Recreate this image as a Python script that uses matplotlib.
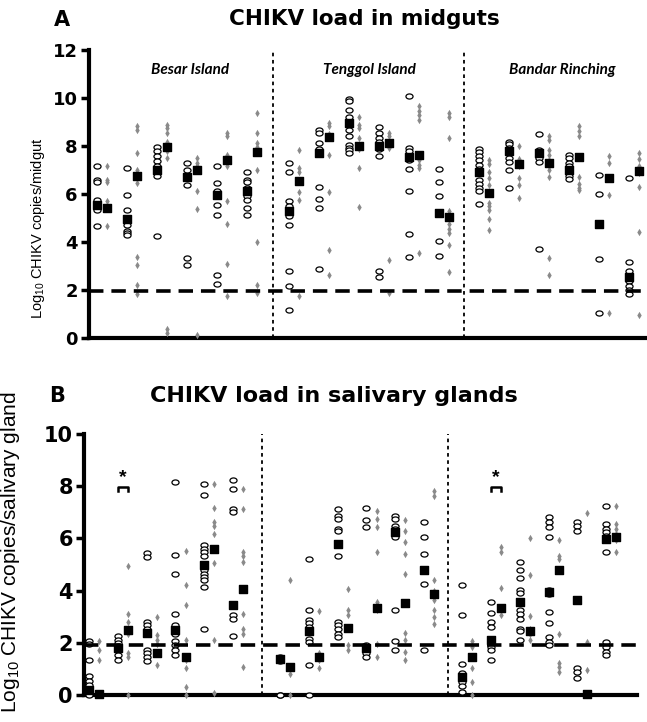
import matplotlib
matplotlib.use("Agg")
import matplotlib.pyplot as plt
from matplotlib.path import Path

plt.rcParams['font.family'] = ['Liberation Sans', 'DejaVu Sans']
plt.rcParams['mathtext.default'] = 'regular'
WIDE = ['DejaVu Sans']

islands = ["Besar Island", "Tenggol Island", "Bandar Rinching"]

# ---- panel A : midguts ----
mg_besar_open = [[7.14, 6.59, 6.48, 5.76, 5.59, 5.48, 5.34, 4.65],
                 [7.07, 5.96, 5.34, 4.85, 4.72, 4.44, 4.37, 4.30],
                 [7.97, 7.77, 7.56, 7.35, 7.14, 7.0, 6.87, 6.73, 4.23],
                 [7.28, 7.0, 6.73, 6.38, 3.33, 3.05],
                 [7.14, 6.45, 6.10, 5.89, 5.55, 5.13, 2.64, 2.26],
                 [6.89, 6.59, 6.48, 6.24, 5.92, 5.76, 5.41, 5.13]]
mg_besar_grey = [[7.14, 6.59, 6.48, 5.69, 4.65],
                 [8.81, 8.67, 7.70, 7.0, 6.45, 3.37, 3.05, 2.22, 1.83],
                 [8.88, 8.74, 8.53, 8.18, 7.97, 7.77, 7.49, 0.35, 0.21],
                 [7.49, 7.28, 7.14, 6.10, 5.37, 0.14],
                 [8.53, 8.39, 7.63, 7.49, 7.14, 5.69, 4.76, 3.08, 1.76],
                 [9.36, 8.53, 8.11, 7.97, 6.98, 3.99, 2.22, 1.87]]
mg_besar_mean = [(5.55, 5.4), (4.95, 6.75), (7.0, 7.95), (6.7, 7.0), (5.95, 7.4), (6.1, 7.75)]

mg_tenggol_open = [[7.28, 6.93, 5.71, 5.51, 5.31, 5.09, 4.72, 2.77, 2.18, 1.15],
                   [8.64, 8.53, 8.11, 7.86, 6.27, 5.78, 5.41, 2.87],
                   [9.94, 9.88, 9.50, 9.22, 8.95, 8.67, 8.39, 8.04, 7.93, 7.84, 7.70],
                   [8.77, 8.53, 8.32, 8.18, 8.04, 7.86, 7.56, 2.77, 2.54],
                   [10.08, 7.91, 7.79, 7.56, 7.42, 7.03, 6.13, 4.34, 3.37],
                   [7.05, 6.48, 5.89, 4.02, 3.40]]
mg_tenggol_grey = [[7.84, 7.07, 6.91, 6.06, 5.73, 1.76],
                   [8.95, 8.83, 8.49, 7.63, 6.06, 3.65, 2.64],
                   [9.20, 8.88, 8.74, 8.32, 7.97, 7.86, 7.07, 5.45],
                   [8.53, 8.39, 8.18, 8.04, 7.91, 3.26, 1.87],
                   [9.67, 9.46, 9.29, 9.08, 7.56, 7.42, 7.21, 7.07, 3.54],
                   [9.36, 9.20, 8.32, 5.27, 5.06, 4.76, 4.55, 4.37, 3.86, 2.73]]
mg_tenggol_mean = [(5.3, 6.55), (7.7, 8.35), (8.95, 8.0), (8.0, 8.1), (7.55, 7.6), (5.2, 5.05)]

mg_bandar_open = [[7.88, 7.73, 7.56, 7.39, 7.21, 7.03, 6.87, 6.59, 6.41, 6.24, 6.10, 5.58],
                  [8.18, 8.07, 7.91, 7.49, 7.32, 6.98, 6.24],
                  [8.49, 7.84, 7.70, 7.49, 7.31, 3.70],
                  [7.63, 7.49, 7.28, 7.14, 6.87, 6.73, 6.63],
                  [6.80, 6.01, 3.29, 1.04],
                  [6.66, 3.15, 2.77, 2.57, 2.36, 2.18, 2.01, 1.84]]
mg_bandar_grey = [[7.42, 7.25, 6.93, 6.66, 6.38, 5.62, 5.48, 5.31, 4.95, 4.51],
                  [8.00, 7.45, 7.14, 6.66, 6.38, 5.83],
                  [8.39, 8.25, 7.84, 7.63, 7.42, 7.17, 6.98, 6.70, 3.33, 2.64],
                  [8.81, 8.60, 8.39, 6.69, 6.41, 6.24, 6.14],
                  [7.59, 7.28, 5.96, 1.04],
                  [7.70, 7.45, 7.17, 7.00, 6.87, 6.28, 4.41, 0.97]]
mg_bandar_mean = [(6.9, 6.05), (7.8, 7.25), (7.7, 7.3), (7.0, 7.55), (4.75, 6.65), (2.55, 6.95)]

# ---- panel B : salivary glands ----
sg_besar_open = [[2.07, 1.95, 1.36, 0.73, 0.55, 0.38, 0.22, 0.09, 0],
                 [2.25, 2.12, 2.0, 1.87, 1.72, 1.53, 1.36],
                 [5.43, 5.28, 2.80, 2.67, 2.54, 2.35, 1.72, 1.59, 1.44, 1.31],
                 [8.17, 5.38, 4.62, 3.09, 2.67, 2.51, 2.35, 2.07, 1.91, 1.72, 1.53],
                 [8.10, 7.67, 5.73, 5.60, 5.47, 5.31, 4.77, 4.64, 4.52, 4.39, 4.13, 2.54],
                 [8.23, 7.89, 7.12, 7.0, 3.44, 3.05, 2.93, 2.25]]
sg_besar_grey = [[2.07, 1.72, 1.36, 0],
                 [4.96, 3.12, 2.80, 2.54, 2.35, 1.59, 1.44, 0],
                 [2.99, 2.29, 2.12, 1.95, 1.15],
                 [5.53, 4.22, 3.44, 2.12, 1.36, 1.02, 0.32, 0],
                 [8.10, 7.16, 6.62, 6.49, 6.15, 5.05, 2.10, 0.09],
                 [7.89, 7.12, 5.47, 5.34, 5.09, 3.12, 2.54, 2.35, 1.06]]
sg_besar_mean = [(0.19, 0.02), (1.8, 2.48), (2.38, 1.59), (2.5, 1.46), (4.99, 5.6), (3.46, 4.07)]

sg_tenggol_open = [[1.45, 1.38, 1.32, 0, 0],
                   [5.22, 3.24, 2.86, 2.74, 2.61, 2.16, 2.04, 1.15, 0],
                   [7.12, 6.87, 6.74, 6.36, 6.30, 5.34, 2.80, 2.67, 2.51, 2.35, 2.23],
                   [7.16, 6.70, 6.42, 1.91, 1.74, 1.59, 1.44],
                   [6.87, 6.74, 6.49, 6.36, 6.17, 6.07, 3.27, 2.07, 1.72],
                   [6.62, 6.04, 5.41, 4.24, 1.72]]
sg_tenggol_grey = [[4.39, 1.11, 0.80, 0],
                   [3.22, 1.59, 1.46, 1.34, 1.02],
                   [4.07, 3.24, 3.05, 1.91, 1.74],
                   [7.06, 6.74, 6.45, 5.47, 3.56, 3.44, 3.24, 1.95, 1.44],
                   [6.70, 6.30, 5.85, 5.41, 4.64, 2.38, 2.10, 1.65, 1.34],
                   [7.82, 7.63, 4.39, 3.98, 3.82, 3.63, 3.24, 2.99, 2.71]]
sg_tenggol_mean = [(1.38, 1.08), (2.45, 1.44), (5.79, 2.58), (1.8, 3.35), (6.23, 3.52), (4.80, 3.88)]

sg_bandar_open = [[4.20, 3.08, 1.18, 0.83, 0.70, 0.51, 0.34, 0.13],
                  [3.56, 3.14, 2.80, 2.61, 2.16, 2.04, 1.84, 1.72, 1.34],
                  [5.09, 4.80, 4.49, 4.03, 3.91, 3.24, 3.12, 2.93, 2.54, 2.46, 2.10],
                  [6.81, 6.62, 6.45, 6.07, 4.03, 3.88, 3.18, 2.74, 2.23, 2.04, 1.91],
                  [6.62, 6.49, 6.30, 1.02, 0.89, 0.64],
                  [7.25, 6.55, 6.36, 6.23, 6.11, 5.98, 5.47, 2.04, 1.84, 1.65, 1.53]]
sg_bandar_grey = [[2.07, 1.84, 1.02, 0.51, 0],
                  [5.66, 5.47, 4.10, 3.05],
                  [6.02, 4.58, 3.02, 2.51, 2.35, 2.12],
                  [5.94, 5.34, 5.22, 2.35, 1.21, 1.06, 0.89],
                  [6.96, 2.04, 0.95, 0],
                  [7.25, 6.55, 6.36, 6.17, 5.92, 5.47]]
sg_bandar_mean = [(0.7, 1.44), (2.1, 3.33), (3.56, 2.46), (3.94, 4.77), (3.65, 0.03), (5.98, 6.07)]

# ellipse marker for the open symbols
circ = Path.unit_circle()
ellipse = Path(circ.vertices * [1.0, 0.72], circ.codes)


def draw_panel(ax, opens, greys, means, starts, dx, dash_y, ytop, ticksize):
    for s, op, gr, mn in zip(starts, opens, greys, means):
        for i in range(len(op)):
            xc = s + i
            ax.scatter([xc] * len(op[i]), op[i], marker=ellipse, s=26, facecolor='white',
                       edgecolor='black', linewidth=0.9, zorder=3, clip_on=False)
            ax.scatter([xc + dx] * len(gr[i]), gr[i], marker='d', s=14, color='#8a8a8a',
                       linewidth=0, zorder=3, clip_on=False)
            ax.scatter([xc, xc + dx], mn[i], marker='s', s=30, color='black', zorder=5,
                       clip_on=False)
    # island dividers
    for k in range(2):
        xd = (starts[k] + 5 + dx + starts[k + 1]) / 2
        ax.plot([xd, xd], [0, ytop], color='black', lw=1.3, ls=(0, (2, 2)), zorder=2)
    ax.axhline(dash_y, color='black', lw=2.6, dashes=(4, 2.2), zorder=4)
    for sp in ['top', 'right']:
        ax.spines[sp].set_visible(False)
    for sp in ['left', 'bottom']:
        ax.spines[sp].set_linewidth(3)
    ax.set_xticks([])
    ax.set_ylim(0, ytop)
    ax.set_yticks(range(0, ytop + 1, 2))
    ax.tick_params(axis='y', length=6, width=2.5, pad=2)
    for lb in ax.get_yticklabels():
        lb.set_fontweight('bold')
        lb.set_fontsize(ticksize)
        lb.set_family(WIDE)


fig = plt.figure(figsize=(6.47, 7.22), dpi=100)

# ---------- A ----------
axA = fig.add_axes([0.1375, 0.532, 0.859, 0.399])
startsA = [0, 6.4, 12.73]
draw_panel(axA, [mg_besar_open, mg_tenggol_open, mg_bandar_open],
           [mg_besar_grey, mg_tenggol_grey, mg_bandar_grey],
           [mg_besar_mean, mg_tenggol_mean, mg_bandar_mean],
           startsA, 0.333, 1.95, 12, 13)
axA.set_xlim(-0.27, 18.27)
axA.set_ylabel('Log$_{10}$ CHIKV copies/midgut', fontsize=10.5)
axA.yaxis.set_label_coords(-0.076, 0.38)
for name, xl in zip(islands, [3.1, 9.1, 15.53]):
    axA.text(xl, 11.15, name, ha='center', va='center', fontsize=11,
             fontstyle='italic', fontweight='bold', family=['Lato', 'DejaVu Sans'])

fig.text(0.095, 0.964, 'A', fontsize=15, fontweight='bold', ha='center', va='baseline',
         family=WIDE)
fig.text(0.5634, 0.9654, 'CHIKV load in midguts', fontsize=15.5, fontweight='bold',
         ha='center', va='baseline', family=WIDE)

# ---------- B ----------
axB = fig.add_axes([0.13, 0.0374, 0.855, 0.3615])
startsB = [0, 6.63, 12.95]
draw_panel(axB, [sg_besar_open, sg_tenggol_open, sg_bandar_open],
           [sg_besar_grey, sg_tenggol_grey, sg_bandar_grey],
           [sg_besar_mean, sg_tenggol_mean, sg_bandar_mean],
           startsB, 0.35, 1.9, 10, 15)
axB.set_xlim(-0.17, 19.03)
axB.set_ylabel('Log$_{10}$ CHIKV copies/salivary gland', fontsize=15)
axB.yaxis.set_label_coords(-0.113, 0.548)

# significance brackets
for s in [startsB[0] + 1, startsB[2] + 1]:
    axB.plot([s, s, s + 0.35, s + 0.35], [7.8, 7.97, 7.97, 7.8], color='black', lw=1.8,
             clip_on=False)
    axB.text(s + 0.175, 8.0, '*', ha='center', va='bottom', fontsize=14, fontweight='bold')

fig.text(0.0889, 0.443, 'B', fontsize=15, fontweight='bold', ha='center', va='baseline',
         family=WIDE)
fig.text(0.5155, 0.443, 'CHIKV load in salivary glands', fontsize=16, fontweight='bold',
         ha='center', va='baseline', family=WIDE)

fig.savefig('out.png', dpi=100)
